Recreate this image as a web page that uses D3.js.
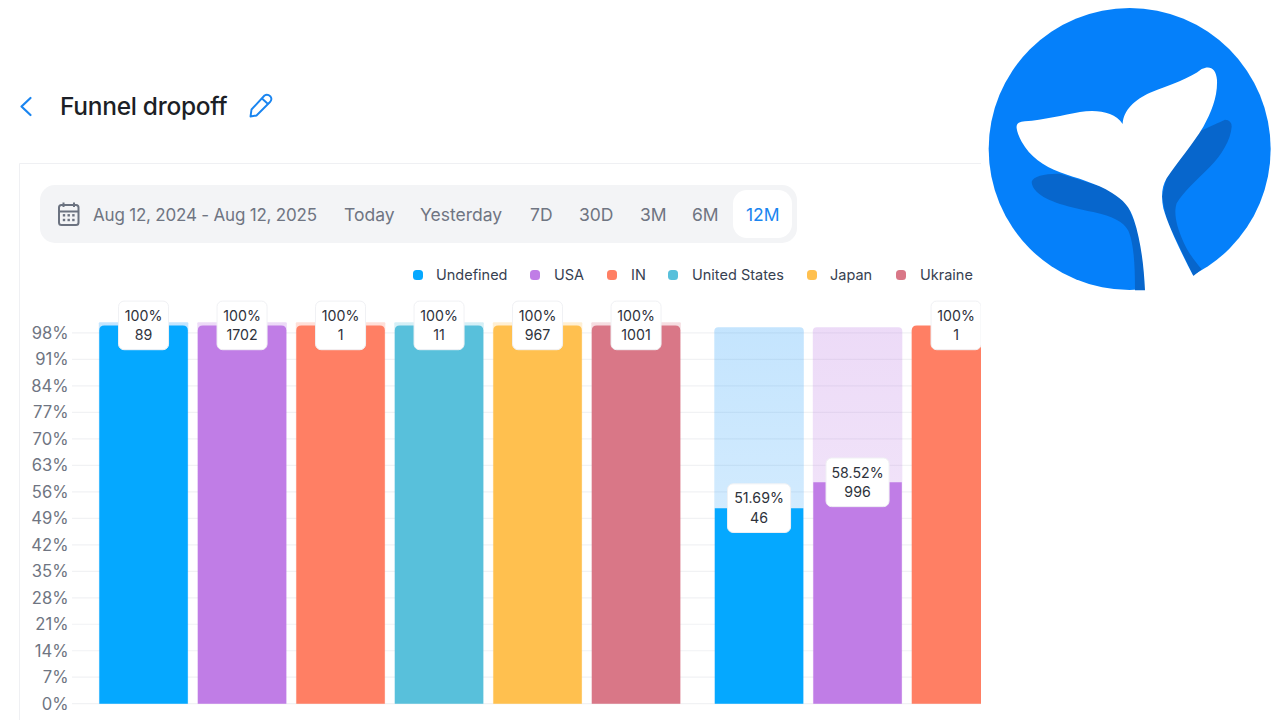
<!DOCTYPE html>
<html>
<head>
<meta charset="utf-8">
<script src="https://cdnjs.cloudflare.com/ajax/libs/d3/7.9.0/d3.min.js"></script>
<style>
html,body{margin:0;padding:0;background:#fff;overflow:hidden}
svg{display:block;font-family:Inter,"Noto Sans",sans-serif}
</style>
</head>
<body>
<svg id="c" width="1280" height="720"></svg>
<script>
const series = ["Undefined","USA","IN","United States","Japan","Ukraine"];
const colors = ["#05A8FF","#C07DE6","#FF7F64","#58C0DB","#FFC04F","#D97787"];
const backTints = ["#1495FA","#B56EE0","#FF7F64","#58C0DB","#FFC04F","#D97787"];
const steps = ["Step 1","Step 2"];
const stepPercents = [[100,100,100,100,100,100],[51.69,58.52,100]];
const stepCounts = [[89,1702,1,11,967,1001],[46,996,1]];
const stepBackTop = [100.8,99.5];
const yTicks = [0,7,14,21,28,35,42,49,56,63,70,77,84,91,98];
const ranges = ["Today","Yesterday","7D","30D","3M","6M","12M"];
const rangeX = [344,420,530,579,640,692,746];
const legendDotX = [418,535,612,673,812,901];
const legendTextX = [436,554,631,692,830,920];

const svg = d3.select("#c");
const defs = svg.append("defs");
defs.append("clipPath").attr("id","plot").append("rect")
  .attr("x",0).attr("y",0).attr("width",981).attr("height",720);

const y = d3.scaleLinear().domain([0,100]).range([703.7,325.4]);
const x0 = d3.scaleBand().domain(steps).range([99.3,99.3+615.5*2]);
const x1 = d3.scaleBand().domain(series).range([0,581]).paddingInner(10/98.5);
const colorOf = d3.scaleOrdinal().domain(series).range(colors);

series.forEach((s,i)=>{
  const g = defs.append("linearGradient").attr("id","bg"+i).attr("x1",0).attr("x2",0).attr("y1",0).attr("y2",1);
  g.append("stop").attr("offset",0).attr("stop-color",backTints[i]).attr("stop-opacity",.25);
  g.append("stop").attr("offset",1).attr("stop-color",backTints[i]).attr("stop-opacity",.13);
});

// Header
svg.append("path").attr("d","M30.5 98 L21.5 106.5 L30.5 115").attr("fill","none")
  .attr("stroke","#1A85F0").attr("stroke-width",2.2).attr("stroke-linecap","round").attr("stroke-linejoin","round");
svg.append("text").attr("x",60).attr("y",114.5).attr("font-size",24.5).attr("font-weight",500)
  .attr("fill","#1C1F26").attr("letter-spacing",-0.3).text("Funnel dropoff");
svg.append("g").attr("fill","none").attr("stroke","#1A85F0").attr("stroke-width",1.9).attr("stroke-linejoin","round")
  .call(g=>{
    g.append("path").attr("d","M250.5 116.5 L251.5 109.5 L264.5 95.5 Q267.5 93.5 270.5 96.5 Q272.5 99.5 270 102 L256.5 115.5 Z");
    g.append("path").attr("d","M262 98.5 L268 104");
  });

// Card
svg.append("path").attr("d","M19.5 720 V163.5 H981").attr("fill","none").attr("stroke","#EFF0F3").attr("stroke-width",1);

// Range selector
svg.append("rect").attr("x",40).attr("y",185).attr("width",757).attr("height",58).attr("rx",15).attr("fill","#F3F4F6");
svg.append("rect").attr("x",733).attr("y",190).attr("width",59).attr("height",48).attr("rx",14).attr("fill","#fff");
const cal = svg.append("g").attr("fill","none").attr("stroke","#6B7280").attr("stroke-width",2);
cal.append("rect").attr("x",59).attr("y",205).attr("width",19.5).attr("height",20).attr("rx",2.5);
cal.append("path").attr("d","M59 211.5 H78.5 M63.5 202.5 V207 M74 202.5 V207");
const calDots = svg.append("g").attr("fill","#6B7280");
[64,68.7,73.4].forEach(cx=>[215.3,220].forEach(cy=>
  calDots.append("rect").attr("x",cx-1.2).attr("y",cy-1.2).attr("width",2.4).attr("height",2.4)));
svg.append("text").attr("x",93).attr("y",221).attr("font-size",17).attr("letter-spacing",-0.2).attr("fill","#6F7582").text("Aug 12, 2024 - Aug 12, 2025");
svg.selectAll(".range").data(ranges).join("text").attr("class","range")
  .attr("x",(d,i)=>rangeX[i]).attr("y",221).attr("font-size",17.5)
  .attr("fill",d=>d==="12M"?"#1A85F0":"#6F7582").text(d=>d);

// Legend
svg.selectAll(".ldot").data(series).join("rect").attr("class","ldot")
  .attr("x",(d,i)=>legendDotX[i]-5).attr("y",270).attr("width",10).attr("height",10).attr("rx",3.5)
  .attr("fill",d=>colorOf(d));
svg.selectAll(".ltxt").data(series).join("text").attr("class","ltxt")
  .attr("x",(d,i)=>legendTextX[i]).attr("y",280.3).attr("font-size",14.5).attr("fill","#374151").text(d=>d);

// Grid + axis
svg.selectAll(".grid").data(yTicks).join("line").attr("class","grid")
  .attr("x1",72).attr("x2",981).attr("y1",d=>y(d)).attr("y2",d=>y(d))
  .attr("stroke","#F1F2F4").attr("stroke-width",1.2);
svg.selectAll(".tick").data(yTicks).join("text").attr("class","tick")
  .attr("x",68.5).attr("y",d=>y(d)+5.8).attr("text-anchor","end").attr("font-size",16.6)
  .attr("fill","#6F7582").text(d=>d+"%");

// Bars
function topRounded(x,w,yt,yb,r){
  const p=d3.path();
  p.moveTo(x,yb);p.lineTo(x,yt+r);p.quadraticCurveTo(x,yt,x+r,yt);
  p.lineTo(x+w-r,yt);p.quadraticCurveTo(x+w,yt,x+w,yt+r);p.lineTo(x+w,yb);p.closePath();
  return p.toString();
}
const marks = steps.flatMap((st,si)=>stepPercents[si].map((v,k)=>({
  step:st,si,series:series[k],k,value:v,count:stepCounts[si][k],
  x:x0(st)+x1(series[k]),w:x1.bandwidth()
})));
const plot = svg.append("g").attr("clip-path","url(#plot)");
plot.selectAll(".back").data(marks).join("path").attr("class","back")
  .attr("d",d=>topRounded(d.x-.5,d.w+1,y(stepBackTop[d.si]),y(0),d.si?4:1))
  .attr("fill",d=>`url(#bg${d.k})`);
plot.selectAll(".bar").data(marks).join("path").attr("class","bar")
  .attr("d",d=>topRounded(d.x,d.w,y(d.value),y(0),d.value===100?5:0))
  .attr("fill",d=>colorOf(d.series));

// Value labels
const lab = plot.selectAll(".lab").data(marks).join("g").attr("class","lab")
  .attr("transform",d=>`translate(${d.x+d.w/2},${y(d.value)})`);
const lw = d=>d.value===100?50:63;
lab.append("rect").attr("x",d=>-lw(d)/2).attr("y",-24.3).attr("width",lw).attr("height",48.6).attr("rx",5.5)
  .attr("fill","#fff").attr("stroke","#F0F1F4").attr("stroke-width",1);
lab.append("text").attr("text-anchor","middle").attr("y",-4.8).attr("font-size",14.2).attr("fill","#2E323B")
  .text(d=>d.value+"%");
lab.append("text").attr("text-anchor","middle").attr("y",14.4).attr("font-size",14.2).attr("fill","#2E323B")
  .text(d=>d.count);

// Whale logo
const logo = svg.append("g").attr("transform","translate(980,0) scale(0.33333)");
logo.append("circle").attr("cx",449).attr("cy",447).attr("r",423).attr("fill","#0580FA");
logo.append("path").attr("fill","#0766CC")
  .attr("d","M155 545 C160 528 195 520 240 521 L380 565 L440 610 L470 680 L490 780 L496 871 L465 871 C465 800 462 730 445 692 C430 665 400 650 340 636 C270 622 200 605 170 575 Q155 560 155 545 Z");
logo.append("path").attr("fill","#0766CC")
  .attr("d","M655 395 C690 380 715 368 735 359 Q755 360 755 380 C752 420 725 465 690 500 C650 540 610 575 590 610 C580 640 590 680 610 725 C625 760 650 790 665 808 L640 828 L560 660 L546 590 L560 530 L620 450 Z");
logo.append("path").attr("fill","#fff")
  .attr("d","M110 385 C108 370 118 365 135 364 C190 360 250 345 300 336 C350 328 405 335 428 372 C430 330 465 298 510 278 C570 255 630 235 665 207 C690 195 708 205 711 240 C713 290 695 335 670 380 C640 430 590 490 560 535 C545 560 543 590 550 625 C565 680 605 760 640 828 L700 900 L495 900 L495 871 C492 800 482 720 462 660 C450 620 430 600 395 578 C350 550 290 535 240 517 C190 497 150 470 125 425 Q112 402 110 385 Z");
</script>
</body>
</html>
